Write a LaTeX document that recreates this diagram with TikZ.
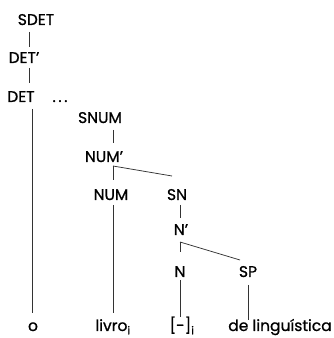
\documentclass[tikz,border=0pt]{standalone}
\usepackage{fontspec}
\setmainfont{Poppins}[FakeBold=0.9]
\begin{document}
\begin{tikzpicture}[x=1pt,y=1pt,
  lab/.style={inner sep=0pt,anchor=base,font=\fontsize{15.5}{16}\selectfont},
  edge/.style={line width=0.75pt,draw=black!80}]
\useasboundingbox (0,0) rectangle (333,338);
% labels (baseline positions, y = 338 - px)
\node[lab] (sdet) at (36,313) {SDET};
\node[lab] (detp) at (24,275) {DET'};
\node[lab] (det) at (21,236) {DET};
\node[lab] (dots) at (60,236) {.\,.\,.};
\node[lab] (snum) at (100,215) {SNUM};
\node[lab] (nump) at (104,176) {NUM'};
\node[lab] (num) at (111,138) {NUM};
\node[lab] (sn) at (177,138) {SN};
\node[lab] (np) at (181,103) {N'};
\node[lab] (n) at (180,61) {N};
\node[lab] (sp) at (248,61) {SP};
\node[lab] (o) at (33,7) {o};
\node[lab] (livro) at (113,7) {livro\textsubscript{i}};
\node[lab] (vazio) at (182,7) {[-]\textsubscript{i}};
\node[lab] (delin) at (280,7) {de linguística};
% line ends
\coordinate (a1) at (29,306); \coordinate (a2) at (29,291);
\coordinate (b1) at (29,270); \coordinate (b2) at (29,255);
\coordinate (c1) at (32,229); \coordinate (c2) at (32,25);
\coordinate (d1) at (113,208); \coordinate (d2) at (113,195);
\coordinate (e1) at (113,172); \coordinate (e2) at (113,158);
\coordinate (f2) at (172,162);
\coordinate (g1) at (113,133); \coordinate (g2) at (113,25);
\coordinate (h1) at (180,133); \coordinate (h2) at (180,120);
\coordinate (i1) at (180,96); \coordinate (i2) at (180,86);
\coordinate (j2) at (240,78);
\coordinate (k1) at (180,58); \coordinate (k2) at (180,21);
\coordinate (l1) at (248,53); \coordinate (l2) at (248,18);
\draw[edge] (a1) -- (a2);
\draw[edge] (b1) -- (b2);
\draw[edge] (c1) -- (c2);
\draw[edge] (d1) -- (d2);
\draw[edge] (e1) -- (e2);
\draw[edge] (e1) -- (f2);
\draw[edge] (g1) -- (g2);
\draw[edge] (h1) -- (h2);
\draw[edge] (i1) -- (i2);
\draw[edge] (i1) -- (j2);
\draw[edge] (k1) -- (k2);
\draw[edge] (l1) -- (l2);
\end{tikzpicture}
\end{document}
